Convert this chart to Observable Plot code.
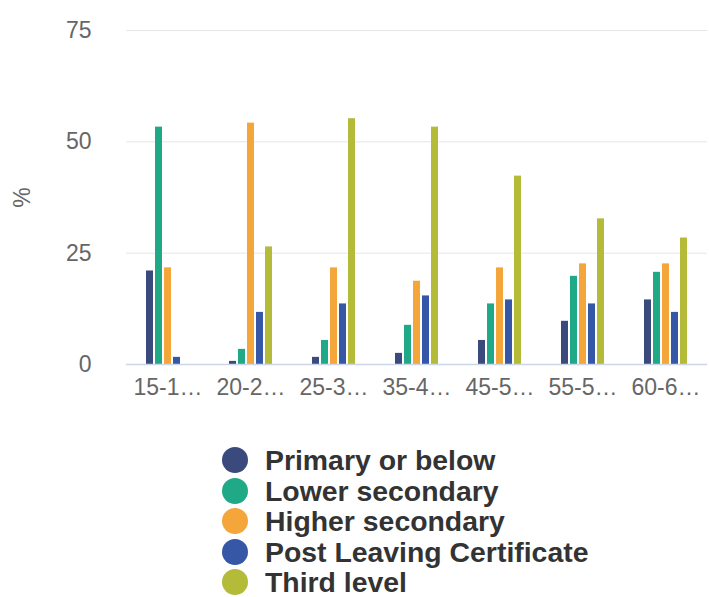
<!DOCTYPE html>
<html>
<head>
<meta charset="utf-8">
<script src="https://cdn.jsdelivr.net/npm/d3@7"></script>
<script src="https://cdn.jsdelivr.net/npm/@observablehq/plot@0.6"></script>
<style>
  html, body { margin: 0; padding: 0; background: #fff; overflow: hidden; }
  #chart { width: 709px; }
  .legend { margin-top: 25px; padding-left: 222px; font-family: "Liberation Sans", Arial, sans-serif; }
  .legend .row { display: flex; align-items: center; height: 30.5px; }
  .legend .dot { width: 26px; height: 26px; border-radius: 50%; margin-right: 17px; flex: none; }
  .legend .lab { font-weight: bold; font-size: 28.4px; color: #333; white-space: nowrap; line-height: 28px; }
</style>
</head>
<body>
<div id="chart"></div>
<script>
const ages = ["15-19", "20-24", "25-34", "35-44", "45-54", "55-59", "60-64"];
const levels = ["Primary or below", "Lower secondary", "Higher secondary", "Post Leaving Certificate", "Third level"];
const colors = ["#3a4a7d", "#1fa987", "#f4a63b", "#3557a5", "#b3bb39"];
const yTicks = [0, 25, 50, 75];

const primary = [21, 0.7, 1.6, 2.5, 5.4, 9.7, 14.5];
const lowerSecondary = [53.3, 3.4, 5.4, 8.8, 13.6, 19.8, 20.7];
const higherSecondary = [21.7, 54.2, 21.7, 18.7, 21.7, 22.6, 22.6];
const postLeaving = [1.6, 11.7, 13.6, 15.4, 14.5, 13.6, 11.7];
const thirdLevel = [0, 26.4, 55.2, 53.3, 42.3, 32.7, 28.4];

const series = [primary, lowerSecondary, higherSecondary, postLeaving, thirdLevel];
const data = [];
ages.forEach((age, i) => {
  levels.forEach((level, j) => {
    data.push({age, level, value: series[j][i]});
  });
});

const trunc = d => d.slice(0, 4) + "\u2026";

const chart = Plot.plot({
  width: 709,
  height: 420,
  marginLeft: 123,
  marginRight: 0,
  marginTop: 30,
  marginBottom: 56,
  style: {fontFamily: "'Liberation Sans', Arial, sans-serif", fontSize: "22px", color: "#666", background: "white", overflow: "visible"},
  fx: {domain: ages, padding: 0, label: null},
  x: {domain: levels, axis: null, paddingInner: 0.26, paddingOuter: 2.03},
  y: {domain: [0, 75]},
  color: {domain: levels, range: colors},
  marks: [
    Plot.gridY(yTicks.slice(1), {stroke: "#e6e6e6", strokeOpacity: 1}),
    Plot.axisY(yTicks, {tickSize: 0, tickPadding: 35, label: "%", labelAnchor: "center", labelArrow: "none", labelOffset: 113, fontSize: 23}),
    Plot.axisFx({anchor: "bottom", tickSize: 0, tickPadding: 14, tickFormat: trunc, label: null, fontSize: 23}),
    Plot.barY(data, {fx: "age", x: "level", y: "value", fill: "level"}),
    Plot.ruleY([0], {stroke: "#ccd6eb", strokeWidth: 1.5})
  ]
});
document.getElementById("chart").appendChild(chart);

const legend = document.createElement("div");
legend.className = "legend";
levels.forEach((level, j) => {
  const row = document.createElement("div");
  row.className = "row";
  const dot = document.createElement("span");
  dot.className = "dot";
  dot.style.background = colors[j];
  const lab = document.createElement("span");
  lab.className = "lab";
  lab.textContent = level;
  row.appendChild(dot);
  row.appendChild(lab);
  legend.appendChild(row);
});
document.getElementById("chart").appendChild(legend);
</script>
</body>
</html>
